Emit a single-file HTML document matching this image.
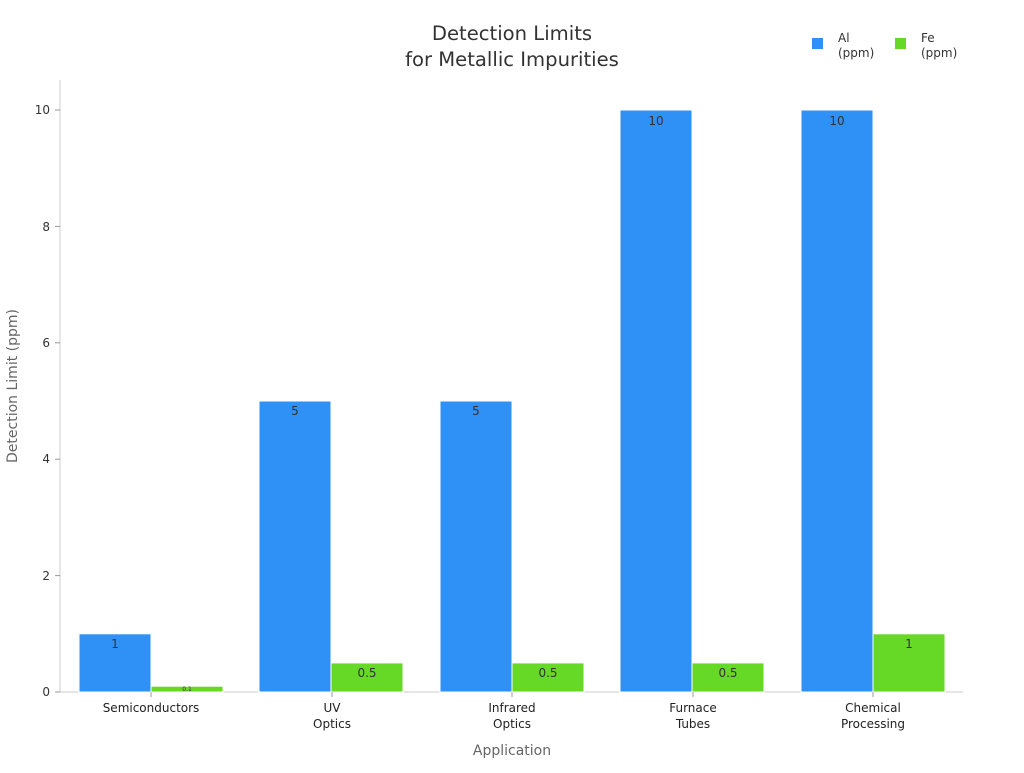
<!DOCTYPE html>
<html><head><meta charset="utf-8"><style>
body{margin:0;background:#fff;}
text{font-family:"DejaVu Sans","Liberation Sans",sans-serif;}
</style></head><body>
<svg width="1024" height="768" viewBox="0 0 1024 768" xmlns="http://www.w3.org/2000/svg">
<text x="512" y="40" text-anchor="middle" font-size="19.6" fill="#333">Detection Limits</text>
<text x="512" y="66" text-anchor="middle" font-size="19.6" fill="#333">for Metallic Impurities</text>
<rect x="812" y="38" width="11" height="11" fill="#2f90f5"/>
<text x="838" y="42" font-size="12" fill="#333">Al</text>
<text x="838" y="57" font-size="12" fill="#333">(ppm)</text>
<rect x="895" y="38" width="11" height="11" fill="#66d926"/>
<text x="921" y="42" font-size="12" fill="#333">Fe</text>
<text x="921" y="57" font-size="12" fill="#333">(ppm)</text>
<line x1="60" y1="80" x2="60" y2="692" stroke="#ccc"/>
<line x1="60" y1="692" x2="963" y2="692" stroke="#ccc"/>
<g font-size="12" fill="#333" text-anchor="end">
<text x="50" y="696">0</text><line x1="55" y1="692" x2="60" y2="692" stroke="#999"/>
<text x="50" y="580">2</text><line x1="55" y1="575.6" x2="60" y2="575.6" stroke="#999"/>
<text x="50" y="463">4</text><line x1="55" y1="459.2" x2="60" y2="459.2" stroke="#999"/>
<text x="50" y="347">6</text><line x1="55" y1="342.8" x2="60" y2="342.8" stroke="#999"/>
<text x="50" y="231">8</text><line x1="55" y1="226.4" x2="60" y2="226.4" stroke="#999"/>
<text x="50" y="114">10</text><line x1="55" y1="110" x2="60" y2="110" stroke="#999"/>
</g>
<text transform="translate(17,386) rotate(-90)" text-anchor="middle" font-size="14" fill="#666">Detection Limit (ppm)</text>
<text x="512" y="755" text-anchor="middle" font-size="14" fill="#666">Application</text>
<g stroke="#fff" stroke-width="1">
<rect x="79" y="633.8" width="72" height="58.2" fill="#2f90f5"/>
<rect x="151" y="686.2" width="72" height="5.8" fill="#66d926"/>
<rect x="259" y="401" width="72" height="291" fill="#2f90f5"/>
<rect x="331" y="662.9" width="72" height="29.1" fill="#66d926"/>
<rect x="440" y="401" width="72" height="291" fill="#2f90f5"/>
<rect x="512" y="662.9" width="72" height="29.1" fill="#66d926"/>
<rect x="620" y="110" width="72" height="582" fill="#2f90f5"/>
<rect x="692" y="662.9" width="72" height="29.1" fill="#66d926"/>
<rect x="801" y="110" width="72" height="582" fill="#2f90f5"/>
<rect x="873" y="633.8" width="72" height="58.2" fill="#66d926"/>
</g>
<g font-size="12" fill="#333" text-anchor="middle">
<text x="115" y="648">1</text>
<text x="187" y="691" font-size="6">0.1</text>
<text x="295" y="415">5</text>
<text x="367" y="677">0.5</text>
<text x="476" y="415">5</text>
<text x="548" y="677">0.5</text>
<text x="656" y="125">10</text>
<text x="728" y="677">0.5</text>
<text x="837" y="125">10</text>
<text x="909" y="648">1</text>
</g>
<g font-size="12" fill="#222" text-anchor="middle">
<text x="151" y="712">Semiconductors</text>
<text x="332" y="712">UV</text><text x="332" y="728">Optics</text>
<text x="512" y="712">Infrared</text><text x="512" y="728">Optics</text>
<text x="693" y="712">Furnace</text><text x="693" y="728">Tubes</text>
<text x="873" y="712">Chemical</text><text x="873" y="728">Processing</text>
</g>
<g stroke="#999"><line x1="151" y1="692" x2="151" y2="697"/><line x1="332" y1="692" x2="332" y2="697"/><line x1="512" y1="692" x2="512" y2="697"/><line x1="693" y1="692" x2="693" y2="697"/><line x1="873" y1="692" x2="873" y2="697"/></g>
</svg>
</body></html>
